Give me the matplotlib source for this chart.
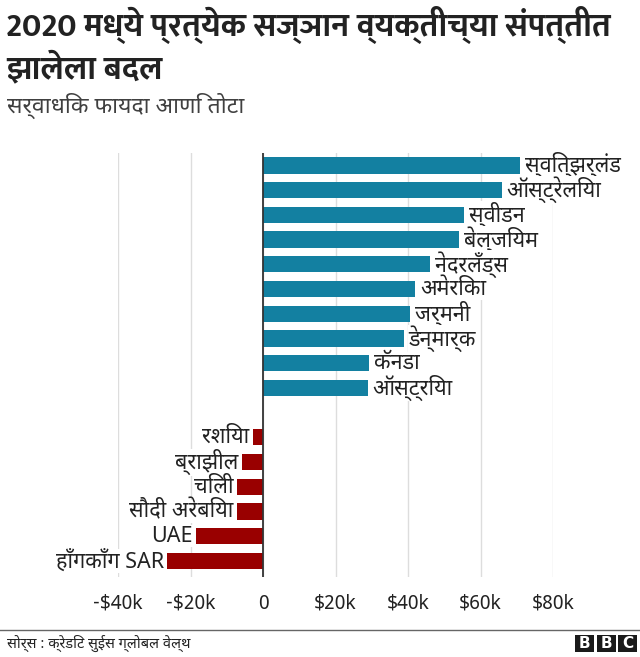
import matplotlib
matplotlib.use("Agg")
import matplotlib.pyplot as plt
from matplotlib import font_manager as fm
from matplotlib.patches import Rectangle

# ---------------- data ----------------
countries = ["स्वित्झर्लंड", "ऑस्ट्रेलिया", "स्वीडन", "बेल्जियम", "नेदरलँड्स",
             "अमेरिका", "जर्मनी", "डेन्मार्क", "कॅनडा", "ऑस्ट्रिया",
             "", "रशिया", "ब्राझील", "चिली", "सौदी अरेबिया", "UAE", "हाँगकाँग SAR"]
change_k = [70.9, 65.8, 55.4, 54.1, 46.1, 42.0, 40.6, 38.9, 29.2, 28.9,
            None, -2.8, -5.7, -7.1, -7.3, -18.5, -26.4]
xticks = [-40, -20, 0, 20, 40, 60, 80]
xtick_labels = ["-$40k", "-$20k", "0", "$20k", "$40k", "$60k", "$80k"]
title_lines = ["2020 मध्ये प्रत्येक सज्ञान व्यक्तीच्या संपत्तीत", "झालेला बदल"]
subtitle = "सर्वाधिक फायदा आणि तोटा"
source = "सोर्स : क्रेडिट सुईस ग्लोबल वेल्थ"

# ---------------- fonts ----------------
installed = {f.name for f in fm.fontManager.ttflist}
cands = ["Noto Sans Devanagari", "Mukta", "Hind", "Ek Mukta", "Noto Sans", "FreeSans", "DejaVu Sans"]
fams = [c for c in cands if c in installed] or ["DejaVu Sans"]
plt.rcParams["font.family"] = fams

bold_cands = ["Mukta", "Ek Mukta", "Hind", "Noto Sans Devanagari", "FreeSans"]
bold_fam = None
for c in bold_cands:
    for f in fm.fontManager.ttflist:
        if f.name == c and (f.weight in ("bold", 700) or "Bold" in f.fname) and "Extra" not in f.fname \
                and "Semi" not in f.fname and "Italic" not in f.fname and "Oblique" not in f.fname:
            bold_fam = c
            break
    if bold_fam:
        break
title_fams = ([bold_fam] if bold_fam else []) + fams

POS = "#1380A1"
NEG = "#990000"
TXT = "#222222"

fig = plt.figure(figsize=(6.4, 6.57), dpi=100)
W, H = 640, 657
ax = fig.add_axes([118 / W, 1 - 577 / H, (553 - 118) / W, (577 - 153) / H])

ys = list(range(len(countries)))
for y, name, v in zip(ys, countries, change_k):
    if v is None:
        continue
    ax.barh(y, v, height=0.66, color=POS if v > 0 else NEG, zorder=2)
    if v > 0:
        ax.text(v + 1.3, y, name, ha="left", va="center", fontsize=15.5, color=TXT,
                zorder=3, bbox=dict(facecolor="white", edgecolor="none", pad=0.3))
    else:
        ax.text(v - 1.0, y, name, ha="right", va="center", fontsize=15.5, color=TXT,
                zorder=3, bbox=dict(facecolor="white", edgecolor="none", pad=0.3))

ax.set_xlim(-40, 80)
ax.set_ylim(16.65, -0.5)
ax.set_xticks(xticks)
ax.set_xticklabels(xtick_labels, fontsize=14, color=TXT)
ax.set_yticks([])
ax.tick_params(axis="x", length=0, pad=12)
for s in ax.spines.values():
    s.set_visible(False)
ax.grid(axis="x", color="#dddddd", linewidth=1, zorder=0)
ax.axvline(0, color="#333333", linewidth=1.3, zorder=4)

fig.text(6 / W, 1 - 25 / H, title_lines[0], ha="left", va="center", fontsize=23.5,
         fontweight="bold", color=TXT, family=title_fams)
fig.text(6 / W, 1 - 69 / H, title_lines[1], ha="left", va="center", fontsize=23.5,
         fontweight="bold", color=TXT, family=title_fams)
fig.text(7 / W, 1 - 106 / H, subtitle, ha="left", va="center", fontsize=16.5, color="#404040")

# footer
fig.add_artist(plt.Line2D([0, 1], [1 - 630 / H, 1 - 630 / H], color="#666666", linewidth=1))
fig.text(7 / W, 1 - 643 / H, source, ha="left", va="center", fontsize=10.5, color=TXT)
for i, letter in enumerate("BBC"):
    x0 = 575 + i * 21.5
    fig.add_artist(Rectangle((x0 / W, 1 - 652 / H), 19 / W, 17 / H, transform=fig.transFigure,
                             facecolor="#1a1a1a", edgecolor="none"))
    fig.text((x0 + 9.5) / W, 1 - 643.5 / H, letter, ha="center", va="center", fontsize=11,
             fontweight="bold", color="white", family="DejaVu Sans")

fig.savefig("out.png", dpi=100)
